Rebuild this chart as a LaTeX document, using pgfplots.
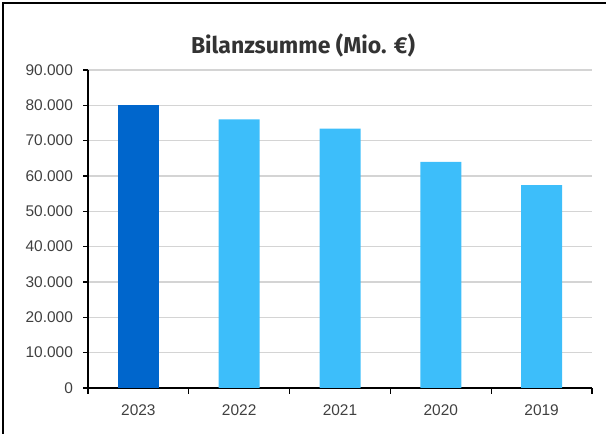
\documentclass[border=0pt]{standalone}
\usepackage{pgfplots}
\pgfplotsset{compat=1.18}
\usepackage{fontspec}
\setmainfont{Liberation Sans}
\newfontfamily\titlefont{Fira Sans}
\definecolor{darkblue}{HTML}{0066CC}
\definecolor{lightblue}{HTML}{3DBEFA}
\definecolor{gridgray}{HTML}{D4D4D4}
\definecolor{labelgray}{HTML}{404040}
\begin{document}
\begin{tikzpicture}[x=0.75pt,y=0.75pt]
\path[use as bounding box] (0,0) rectangle (606,434);
\draw[black, line width=1.2pt] (3,0) -- (3,431) -- (606,431);
\node[anchor=base, font=\titlefont\bfseries\fontsize{17.25pt}{20pt}\selectfont, text=black!80] at (303,380.7) {Bilanzsumme (Mio. €)};
\begin{axis}[
  at={(66pt,34.5pt)}, anchor=south west,
  scale only axis,
  width=378pt, height=238.5pt,
  xmin=-0.5, xmax=4.5,
  ymin=0, ymax=90000,
  axis x line*=bottom, axis y line*=left,
  axis line style={black, line width=0.8pt},
  xtick={0,1,2,3,4},
  xticklabels={2023,2022,2021,2020,2019},
  major x tick style={draw=none},
  minor xtick={-0.5,0.5,1.5,2.5,3.5,4.5},
  minor x tick style={black, line width=0.8pt},
  minor tick length=4.5pt,
  ytick={0,10000,...,90000},
  major y tick style={black, line width=0.8pt},
  major tick length=3.75pt,
  tick align=outside,
  ymajorgrids,
  grid style={gridgray, line width=1.1pt},
  scaled ticks=false,
  /pgf/number format/.cd, 1000 sep={.}, assume math mode=true,
  /pgfplots/.cd,
  tick label style={font=\fontsize{11.6pt}{13pt}\selectfont, text=labelgray},
  yticklabel style={xshift=-4pt},
  xticklabel style={yshift=-5pt},
  ybar, bar width=30.75pt, bar shift=0pt,
  clip=false,
]
\addplot[fill=darkblue, draw=none] coordinates {(0,80000)};
\addplot[fill=lightblue, draw=none] coordinates {(1,76000) (2,73430) (3,64000) (4,57430)};
\end{axis}
\end{tikzpicture}
\end{document}
